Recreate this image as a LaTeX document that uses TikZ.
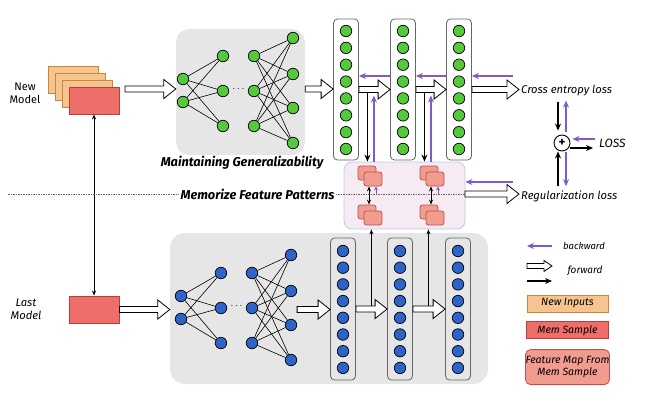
\documentclass[tikz,border=0pt]{standalone}
\usepackage{fontspec}
\setmainfont{Fira Sans}
\usetikzlibrary{positioning,calc,arrows.meta}
\definecolor{panelgray}{HTML}{E6E6E6}
\definecolor{inorange}{HTML}{F6C48F}
\definecolor{inborder}{HTML}{C8873A}
\definecolor{memred}{HTML}{EE6F6A}
\definecolor{memborder}{HTML}{B8403C}
\definecolor{featfill}{HTML}{F19C8F}
\definecolor{featborder}{HTML}{B85450}
\definecolor{neugreen}{HTML}{55C83B}
\definecolor{neublue}{HTML}{2E63C8}
\definecolor{bwdpurple}{HTML}{7F5AC8}
\definecolor{pinkfill}{HTML}{F6EAF3}
\definecolor{pinkborder}{HTML}{B7CCE3}
\def\fwdhl{12pt}\def\fwdhw{9.5pt}\def\fwdsh{3pt}
\newcommand{\fwdarrow}[2]{\draw[fill=white,line width=0.8pt,line join=miter] let \p1=(#1), \p2=(#2) in
  (\x1,\y1+\fwdsh) -- (\x2-\fwdhl,\y1+\fwdsh) -- (\x2-\fwdhl,\y1+\fwdhw) -- (\x2,\y1) -- (\x2-\fwdhl,\y1-\fwdhw) -- (\x2-\fwdhl,\y1-\fwdsh) -- (\x1,\y1-\fwdsh) -- cycle;}

\begin{document}
\begin{tikzpicture}[x=1pt,y=-1pt,
	lbl/.style={font=\itshape\fontsize{11.2}{13}\selectfont,inner sep=2pt},
	panel/.style={fill=panelgray,rounded corners=13pt},
	colbox/.style={draw=black!60,line width=0.8pt,rounded corners=4pt,minimum width=25pt,minimum height=141pt},
	neuA/.style={circle,draw=black,line width=0.7pt,fill=neugreen,minimum size=11.5pt,inner sep=0pt},
	neuB/.style={neuA,fill=neublue},
	syn/.style={line width=0.6pt},
	inbox/.style={draw=inborder,fill=inorange,line width=0.8pt,minimum width=50pt,minimum height=27pt},
	membox/.style={draw=memborder,fill=memred,line width=0.8pt,minimum width=50pt,minimum height=27pt},
	feat/.style={draw=featborder,fill=featfill,line width=0.8pt,rounded corners=2.5pt,minimum width=18pt,minimum height=14pt,inner sep=0pt},
	bwd/.style={draw=bwdpurple,line width=1.2pt,-{Stealth[length=7pt,width=6pt]}},
	fwd/.style={line width=1.2pt,-{Stealth[length=7pt,width=6pt]}},
	thin/.style={line width=0.8pt,{Stealth[length=5pt,width=4pt]}-{Stealth[length=5pt,width=4pt]}}]
	\useasboundingbox (0,0) rectangle (652,406);
	
	\node[panel,minimum width=129pt,minimum height=126pt] (toppanel) at (240.5,92) {};
	\node[panel,rounded corners=15pt,minimum width=318pt,minimum height=151pt] (lowpanel) at (329,308.5) {};
	
	\node[inbox] (newin1) at (73,79.5) {};
	\node[inbox] (newin2) at (80,86.5) {};
	\node[inbox] (newin3) at (87,93.5) {};
	\node[membox] (newmem) at (94,100.5) {};
	\node[align=center,font=\fontsize{11}{13}\selectfont] (newlbl) at (25,93) {New\\Model};
	\node[membox] (lastmem) at (94,309.5) {};
	\node[lbl,align=center] (lastlbl) at (26,309.5) {Last\\Model};
	\draw[thin] (newmem.south) -- (lastmem.north);
	
	\foreach \n/\dx/\dy in {A/0/0,B/-2/217}{
		\begin{scope}[shift={(\dx,\dy)}]
			\foreach \y [count=\i] in {79,102} \node[neu\n] (\n1\i) at (183,\y) {};
			\foreach \y [count=\i] in {56,91,126} \node[neu\n] (\n2\i) at (223,\y) {};
			\foreach \y [count=\i] in {56,91,126} \node[neu\n] (\n3\i) at (254,\y) {};
			\foreach \y [count=\i] in {38,74,108,143} \node[neu\n] (\n4\i) at (293,\y) {};
			\node (\n dots) at (238.5,89) {$\cdots$};
			\foreach \i in {1,2} \foreach \j in {1,2,3} \draw[syn] (\n1\i) -- (\n2\j);
			\foreach \i in {1,2,3} \foreach \j in {1,2,3,4} \draw[syn] (\n3\i) -- (\n4\j);
		\end{scope}
	}
	
	\foreach \k/\cx in {1/346,2/403,3/459}{
		\node[colbox,fill=white] (colA\k) at (\cx,89.5) {};
		\foreach \m in {0,...,7} \node[neuA] at (\cx,{31+\m*16.86}) {};
	}
	\foreach \k/\cx in {1/343,2/400,3/458}{
		\node[colbox,minimum height=142pt] (colB\k) at (\cx,309) {};
		\foreach \m in {0,...,7} \node[neuB] at (\cx,{251+\m*16.7}) {};
	}
	
	\node[font=\bfseries\itshape\fontsize{12.8}{14}\selectfont] (gentxt) at (242,163) {Maintaining Generalizability};
	
	\node[draw=pinkborder,fill=pinkfill,line width=0.8pt,rounded corners=8pt,minimum width=121pt,minimum height=67pt] (fmbox) at (404.5,195.5) {};
	\coordinate (memL) at (8,194);
	\coordinate (memR) at (465,194);
	\draw[black!60,line width=0.6pt,dash pattern=on 1.5pt off 1pt] (memL) -- (memR);
	\node[fill=white,inner sep=2pt,font=\bfseries\itshape\fontsize{12.8}{14}\selectfont] (memtxt) at (257.5,194) {Memorize Feature Patterns};
	
	\foreach \k/\fx in {1/358,2/420}{
		\node[feat] (fmta\k) at (\fx+9,173) {};
		\node[feat] (fmtb\k) at (\fx+15,179) {};
		\node[feat] (fmba\k) at (\fx+9,212) {};
		\node[feat] (fmbb\k) at (\fx+15,218) {};
		\draw[thin] ([xshift=-4pt]fmtb\k.south) -- ([xshift=-4pt]fmtb\k.south |- fmba\k.north);
		\draw[bwdpurple,line width=1pt,-{Stealth[length=4pt,width=4pt]}] ([xshift=3pt]fmtb\k.south |- memR) -- ([xshift=3pt]fmtb\k.south);
	}
	
	\coordinate (topin) at (125,89);
	\fwdarrow{topin}{toppanel.west}
	\fwdarrow{toppanel.east |- topin}{colA1.west}
	\fwdarrow{colA1.east}{colA2.west}
	\fwdarrow{colA2.east}{colA3.west}
	\fwdarrow{lastmem.east}{lowpanel.west}
	\fwdarrow{lastmem.east -| B41.east}{colB1.west}
	\fwdarrow{colB1.east}{colB2.west}
	\fwdarrow{colB2.east}{colB3.west}
	
	\node[lbl,anchor=west] (ce) at (519,91) {Cross entropy loss};
	\node[lbl,anchor=west] (reg) at (519,196) {Regularization loss};
	\fwdarrow{colA3.east}{ce.west}
	\fwdarrow{memR}{reg.west}
	
	\coordinate (ceback) at (513,76);
	\coordinate (regback) at (513,182);
	\draw[bwd] ([yshift=13.5pt]colA2.west) -- ([yshift=13.5pt]colA1.east);
	\draw[bwd] ([yshift=13.5pt]colA3.west) -- ([yshift=13.5pt]colA2.east);
	\draw[bwd] (ceback) -- (ceback -| colA3.east);
	\draw[bwd] (regback) -- (regback -| fmbox.east);
	
	\foreach \k in {1,2}{
		\draw[fwd] ([shift={(8.5pt,-4pt)}]colA\k.east) -- ([xshift=8.5pt]colA\k.east |- fmbox.north);
		\draw[bwd] ([xshift=15pt]colA\k.east |- fmbox.north) -- ([shift={(15pt,-6pt)}]colA\k.east);
		\draw[line width=0.8pt,-{Stealth[length=5pt,width=4pt]}] ([shift={(15.5pt,3pt)}]colB\k.east) -- ([xshift=15.5pt]colB\k.east |- fmbox.south);
	}
	
	\node[circle,draw,line width=0.9pt,minimum size=16pt,inner sep=0pt,font=\bfseries\fontsize{13}{13}\selectfont] (plus) at (562,143) {+};
	\node[lbl,anchor=west,font=\itshape\fontsize{12}{14}\selectfont] (loss) at (597,143) {LOSS};
	\draw[fwd,shorten <=3pt,shorten >=4pt] ([xshift=-4pt]plus.north |- ce.south) -- ([xshift=-4pt]plus.north);
	\draw[bwd,shorten <=3pt,shorten >=2pt] ([xshift=4pt]plus.north) -- ([xshift=4pt]plus.north |- ce.south);
	\draw[fwd,shorten <=2pt,shorten >=0pt] ([xshift=-4pt]plus.south |- reg.north) -- ([xshift=-4pt]plus.south);
	\draw[bwd,shorten <=1pt,shorten >=2pt] ([xshift=4pt]plus.south) -- ([xshift=4pt]plus.south |- reg.north);
	\draw[bwd,shorten <=2pt,shorten >=2pt] ([yshift=4pt]loss.west) -- ([yshift=4pt]plus.east);
	\draw[fwd,shorten >=4pt] ([yshift=-5pt]plus.east) -- ([yshift=-5pt]loss.west);
	
	\coordinate (lgbwd) at (552,246);
	\coordinate (lgfwd) at (527,266);
	\coordinate (lgarr) at (527,281);
	\draw[bwd] (lgbwd) -- ++(-25,0) coordinate (lgbwdend);
	{\def\fwdhl{8pt}\def\fwdhw{5.5pt}\def\fwdsh{2.5pt}\fwdarrow{lgfwd}{lgfwd -| lgbwd}}
	\draw[fwd] (lgarr) -- (lgarr -| lgbwd);
	\node[lbl,font=\itshape\fontsize{9.5}{11}\selectfont] (lgbwdtxt) at (584,246) {backward};
	\node[lbl,font=\itshape\fontsize{10}{11}\selectfont] (lgfwdtxt) at (585,271) {forward};
	\node[inbox,minimum width=81pt,minimum height=17pt,font=\itshape\fontsize{10.5}{11}\selectfont] (lgnew) at (567.5,303.5) {New Inputs};
	\node[membox,minimum width=82pt,minimum height=17pt,font=\itshape\fontsize{10.5}{11}\selectfont,below=9pt of lgnew] (lgmem) {Mem Sample};
	\node[feat,rounded corners=5pt,minimum width=82pt,minimum height=35pt,align=center,font=\itshape\fontsize{10.5}{12}\selectfont,below=10pt of lgmem] (lgfeat) {Feature Map From\\Mem Sample};
\end{tikzpicture}
\end{document}
